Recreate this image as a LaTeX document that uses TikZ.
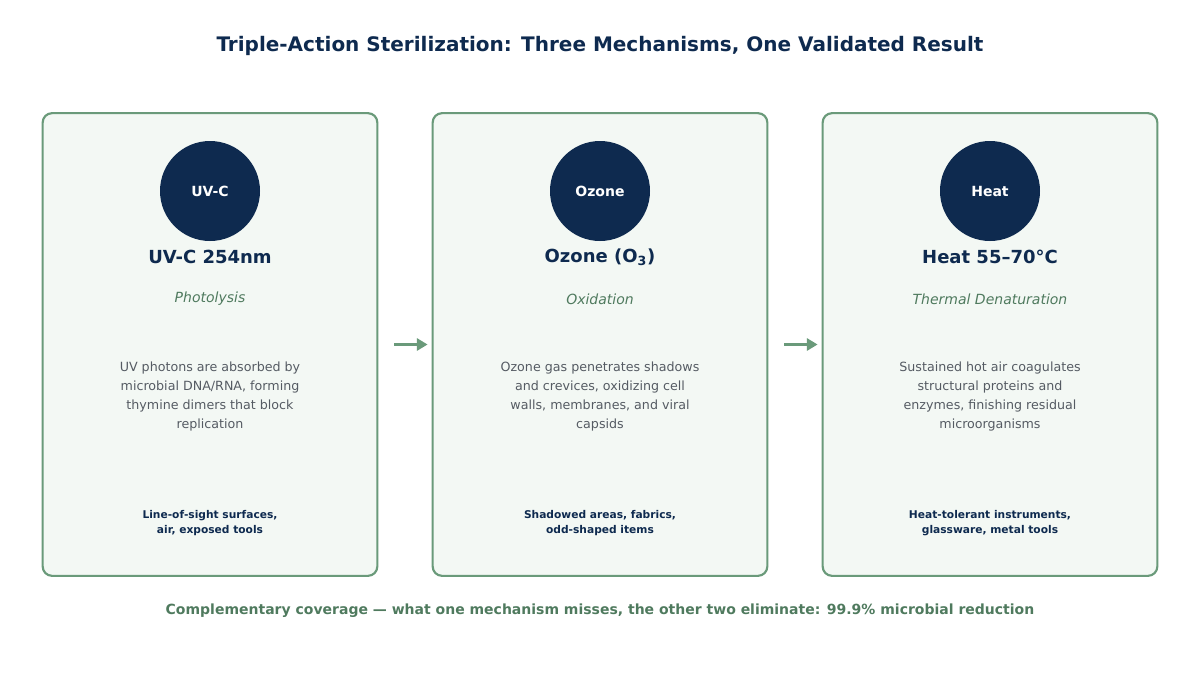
\documentclass[tikz,border=0pt]{standalone}
\usepackage{fontspec}
\setmainfont{DejaVu Sans}
\usetikzlibrary{arrows.meta}
\definecolor{navy}{HTML}{0E2A4F}
\definecolor{gborder}{HTML}{6A9A7A}
\definecolor{gfill}{HTML}{F3F8F4}
\definecolor{gtext}{HTML}{4F7A5E}
\definecolor{body}{HTML}{555B63}
\begin{document}
\begin{tikzpicture}[x=0.75pt,y=-0.75pt,
 card/.style={draw=gborder,fill=gfill,line width=1.6pt,rounded corners=7pt,minimum width=251pt,minimum height=347pt,inner sep=0},
 circ/.style={circle,fill=navy,minimum size=75pt,text=white,font=\fontsize{10.5}{12}\selectfont\bfseries},
 ttl/.style={text=navy,font=\fontsize{13.5}{16}\selectfont\bfseries},
 sub/.style={text=gtext,font=\fontsize{10.5}{12}\selectfont\itshape},
 bod/.style={text=body,align=center,font=\fontsize{9.5}{14.2}\selectfont},
 bot/.style={text=navy,align=center,font=\fontsize{8}{11.2}\selectfont\bfseries},
 arr/.style={draw=gborder,line width=2.2pt,-{Triangle[length=8pt,width=9pt]}}]
\useasboundingbox (0,0) rectangle (1200,675);
\node[text=navy,font=\fontsize{15}{18}\selectfont\bfseries] (title) at (600,46) {Triple-Action Sterilization: Three Mechanisms, One Validated Result};
\foreach \i/\x/\c/\t/\s/\b/\o in {
 a/210/UV-C/{UV-C 254nm}/Photolysis/{UV photons are absorbed by\\microbial DNA/RNA, forming\\thymine dimers that block\\replication}/{Line-of-sight surfaces,\\air, exposed tools},
 b/600/Ozone/{Ozone (O\textsubscript{3})}/Oxidation/{Ozone gas penetrates shadows\\and crevices, oxidizing cell\\walls, membranes, and viral\\capsids}/{Shadowed areas, fabrics,\\odd-shaped items},
 c/990/Heat/{Heat 55–70°C}/{Thermal Denaturation}/{Sustained hot air coagulates\\structural proteins and\\enzymes, finishing residual\\microorganisms}/{Heat-tolerant instruments,\\glassware, metal tools}}{
 \node[card] (card\i) at (\x,344.5) {};
 \node[circ] (circ\i) at (\x,191) {\c};
 \node[ttl] (ttl\i) at (\x,257) {\t};
 \node[sub] (sub\i) at (\x,299) {\s};
 \node[bod] (bod\i) at (\x,396.5) {\b};
 \node[bot] (bot\i) at (\x,523.5) {\o};
}
\draw[arr] ([xshift=12pt]carda.east) -- ([xshift=-3pt]cardb.west);
\draw[arr] ([xshift=12pt]cardb.east) -- ([xshift=-3pt]cardc.west);
\node[text=gtext,font=\fontsize{10.5}{12}\selectfont\bfseries] (foot) at (600,611) {Complementary coverage — what one mechanism misses, the other two eliminate: 99.9\% microbial reduction};
\end{tikzpicture}
\end{document}
